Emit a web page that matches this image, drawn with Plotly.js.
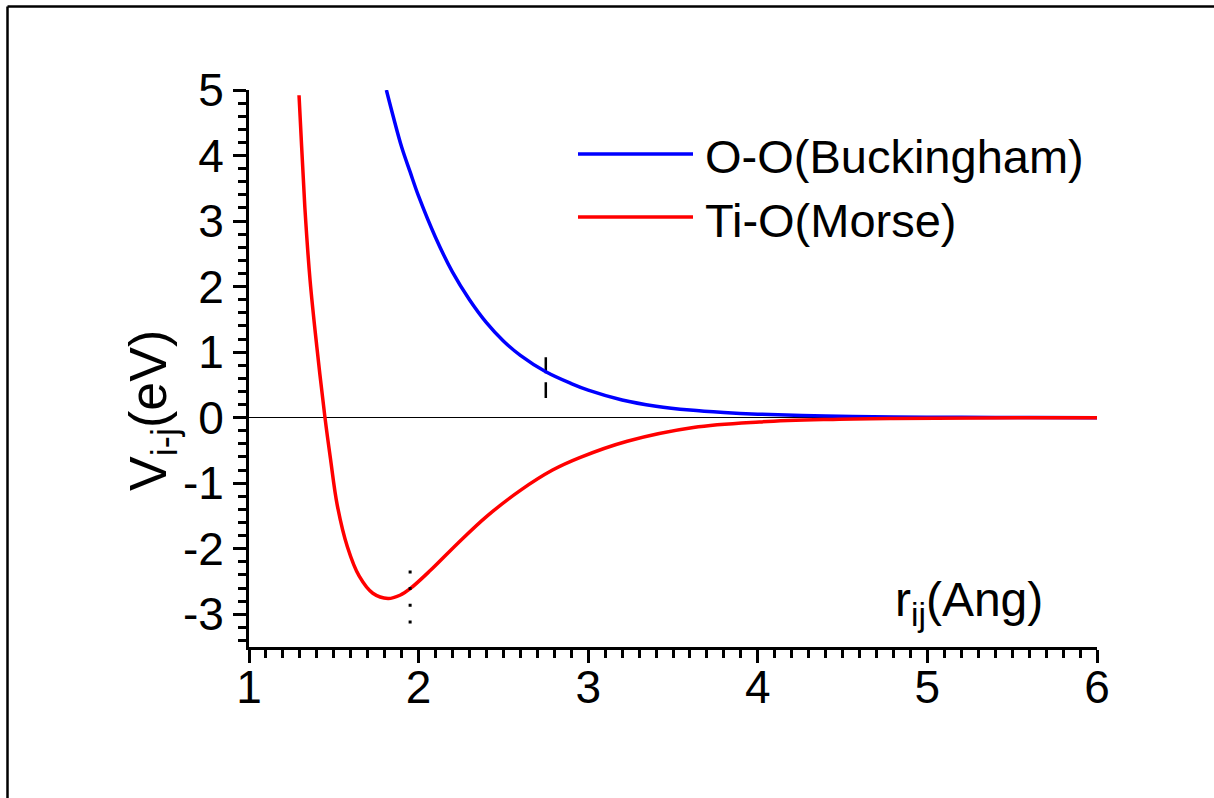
<!DOCTYPE html>
<html>
<head>
<meta charset="utf-8">
<script src="https://cdn.plot.ly/plotly-3.0.1.min.js"></script>
<style>
  html, body { margin: 0; padding: 0; background: #ffffff; }
  #chart { width: 1214px; height: 798px; }
</style>
</head>
<body>
<div id="chart"></div>
<script>
// ---- data ----
const seriesNames = ['O-O(Buckingham)', 'Ti-O(Morse)'];

// O-O Buckingham potential (blue)
const ooR = [1.81, 1.85, 1.90, 1.95, 2.00, 2.10, 2.20, 2.30, 2.40, 2.50, 2.60, 2.75, 2.90, 3.00, 3.20, 3.40, 3.60, 3.80, 4.00, 4.40, 4.80, 5.20, 5.60, 6.00];
const ooV = [5.0, 4.6, 4.13, 3.75, 3.38, 2.75, 2.22, 1.80, 1.45, 1.17, 0.95, 0.70, 0.52, 0.42, 0.27, 0.175, 0.115, 0.078, 0.053, 0.024, 0.011, 0.005, 0.002, 0.0];

// Ti-O Morse potential (red)
const tiR = [1.295, 1.31, 1.33, 1.36, 1.40, 1.448, 1.48, 1.52, 1.58, 1.65, 1.73, 1.82, 1.89, 1.95, 2.07, 2.23, 2.40, 2.60, 2.79, 2.95, 3.23, 3.62, 4.01, 4.41, 4.80, 5.30, 6.00];
const tiV = [4.92, 4.15, 3.18, 2.1, 1.08, 0.0, -0.62, -1.33, -1.97, -2.42, -2.68, -2.76, -2.71, -2.61, -2.33, -1.92, -1.51, -1.11, -0.80, -0.61, -0.36, -0.15, -0.066, -0.028, -0.012, -0.004, 0.0];

// marker drop lines
const ooMarkR = [2.75, 2.75];
const ooMarkV = [0.92, 0.30];
const tiMarkR = [1.95, 1.95];
const tiMarkV = [-2.331, -3.14];

// axes
const xRange = [1, 6];
const yRange = [-3.5, 5];
const xTickVals = [1, 2, 3, 4, 5, 6];
const xTickText = ['1', '2', '3', '4', '5', '6'];
const yTickVals = [-3, -2, -1, 0, 1, 2, 3, 4, 5];
const yTickText = ['-3', '-2', '-1', '0', '1', '2', '3', '4', '5'];
const xTitle = 'r<sub>ij</sub>(Ang)';
const yTitle = 'V<sub>i-j</sub>(eV)';

// ---- figure ----
const FONT = '"Liberation Sans", Arial, Helvetica, sans-serif';
const BLUE = '#0000ff';
const RED = '#ff0000';

const traces = [
  { x: ooMarkR, y: ooMarkV, mode: 'lines', line: { color: '#000', width: 2.5, dash: '16px,9px' }, hoverinfo: 'skip', showlegend: false },
  { x: ooR, y: ooV, mode: 'lines', name: seriesNames[0], line: { color: BLUE, width: 3.5, shape: 'spline', smoothing: 1 }, showlegend: false },
  { x: tiR, y: tiV, mode: 'lines', name: seriesNames[1], line: { color: RED, width: 3.5, shape: 'spline', smoothing: 1 }, showlegend: false },
  { x: tiMarkR, y: tiMarkV, mode: 'lines', line: { color: '#000', width: 3, dash: '3px,13.7px' }, hoverinfo: 'skip', showlegend: false }
];

const L = 249, R = 117, T = 90, B = 151;
const W = 1214, H = 798;
const pw = W - L - R, ph = H - T - B;
const px = v => (v - L) / pw;          // pixel -> paper x
const py = v => (H - B - v) / ph;      // pixel -> paper y

const layout = {
  width: W, height: H,
  margin: { l: L, r: R, t: T, b: B, pad: 0 },
  paper_bgcolor: '#ffffff',
  plot_bgcolor: '#ffffff',
  font: { family: FONT, color: '#000', size: 46 },
  showlegend: false,
  xaxis: {
    range: xRange, showgrid: false, zeroline: false,
    showline: true, linecolor: '#000', linewidth: 3,
    tickmode: 'array', tickvals: xTickVals, ticktext: xTickText,
    ticks: 'outside', ticklen: 13, tickwidth: 3, tickcolor: '#000',
    ticklabelstandoff: -15,
    tickfont: { family: FONT, size: 46, color: '#000' },
    minor: { dtick: 0.1, tick0: 1, ticks: 'outside', ticklen: 8, tickwidth: 3, tickcolor: '#000', showgrid: false }
  },
  yaxis: {
    range: yRange, showgrid: false,
    zeroline: true, zerolinecolor: '#000', zerolinewidth: 1,
    showline: true, linecolor: '#000', linewidth: 3,
    tickmode: 'array', tickvals: yTickVals, ticktext: yTickText,
    ticks: 'outside', ticklen: 13, tickwidth: 3, tickcolor: '#000',
    tickfont: { family: FONT, size: 46, color: '#000' },
    minor: { dtick: 0.2, tick0: 0, ticks: 'outside', ticklen: 8, tickwidth: 3, tickcolor: '#000', showgrid: false }
  },
  shapes: [
    // outer frame (top and left edges)
    { type: 'line', xref: 'paper', yref: 'paper', x0: px(7.5), x1: px(1214), y0: py(6.5), y1: py(6.5), line: { color: '#000', width: 2.5 } },
    { type: 'line', xref: 'paper', yref: 'paper', x0: px(7.5), x1: px(7.5), y0: py(6.5), y1: py(798), line: { color: '#000', width: 2.5 } },
    // legend lines
    { type: 'line', xref: 'paper', yref: 'paper', x0: px(578), x1: px(693), y0: py(154), y1: py(154), line: { color: BLUE, width: 3.5 } },
    { type: 'line', xref: 'paper', yref: 'paper', x0: px(578), x1: px(693), y0: py(217), y1: py(217), line: { color: RED, width: 3.5 } }
  ],
  annotations: [
    { xref: 'paper', yref: 'paper', x: px(703), y: py(157), xanchor: 'left', yanchor: 'middle', showarrow: false,
      text: seriesNames[0], font: { family: FONT, size: 47, color: '#000' } },
    { xref: 'paper', yref: 'paper', x: px(703), y: py(220), xanchor: 'left', yanchor: 'middle', showarrow: false,
      text: seriesNames[1], font: { family: FONT, size: 47, color: '#000' } },
    { xref: 'paper', yref: 'paper', x: px(969), y: py(603), xanchor: 'center', yanchor: 'middle', showarrow: false,
      text: xTitle, font: { family: FONT, size: 48, color: '#000' } },
    { xref: 'paper', yref: 'paper', x: px(152), y: py(411), xanchor: 'center', yanchor: 'middle', showarrow: false,
      textangle: -90, text: yTitle, font: { family: FONT, size: 52, color: '#000' } }
  ]
};

Plotly.newPlot('chart', traces, layout, { staticPlot: true, displayModeBar: false });
</script>
</body>
</html>
